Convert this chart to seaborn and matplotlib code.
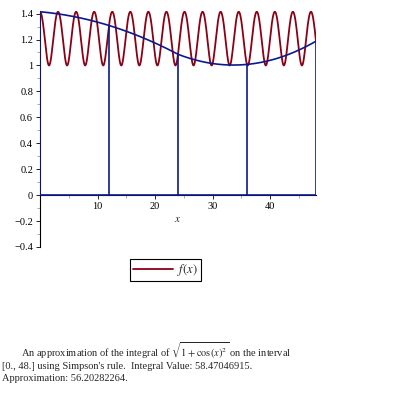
import numpy as np
import pandas as pd
import seaborn as sns
import matplotlib.pyplot as plt
from matplotlib.ticker import MultipleLocator, FixedLocator, FuncFormatter
from matplotlib.lines import Line2D

# interval and Simpson nodes
x_start, x_end = 0.0, 48.0
nodes = [0, 12, 24, 36, 48]
xticks = [10, 20, 30, 40]
yticks = [-0.4, -0.2, 0, 0.2, 0.4, 0.6, 0.8, 1, 1.2, 1.4]

caption = [
    r"An approximation of the integral of $\sqrt{1+\cos(x)^2}$ on the interval",
    "[0., 48.] using Simpson's rule.  Integral Value: 58.47046915.",
    "Approximation: 56.20282264.",
]

red = '#8c0014'
blue = '#0a1a8c'


def f(x):
    return np.sqrt(1 + np.cos(x) ** 2)


sns.set_style("white")
plt.rcParams['font.family'] = ['Liberation Serif', 'DejaVu Serif']
plt.rcParams['mathtext.fontset'] = 'stix'

fig = plt.figure(figsize=(3.95, 3.95), dpi=100)
ax = fig.add_axes([40 / 395, (395 - 247) / 395, 276 / 395, 236 / 395])

# the function
xs = np.linspace(x_start, x_end, 2000)
curve = pd.DataFrame({'x': xs, 'y': f(xs)})
sns.lineplot(data=curve, x='x', y='y', color=red, lw=1.3, ax=ax, zorder=3)

# Simpson parabolas over pairs of subintervals
node_y = f(np.array(nodes, dtype=float))
for i in range(0, len(nodes) - 2, 2):
    px = np.array(nodes[i:i + 3], dtype=float)
    coef = np.polyfit(px, node_y[i:i + 3], 2)
    seg_x = np.linspace(px[0], px[-1], 200)
    seg = pd.DataFrame({'x': seg_x, 'y': np.polyval(coef, seg_x)})
    sns.lineplot(data=seg, x='x', y='y', color=blue, lw=1.2, ax=ax, zorder=4)

ax.vlines(nodes, 0, node_y, color=blue, lw=1.2, zorder=4)
ax.hlines(0, x_start, x_end, color=blue, lw=1.2, zorder=4)

ax.set_xlim(x_start, x_end)
ax.set_ylim(-0.4, 1.42)

for s in ['top', 'right']:
    ax.spines[s].set_visible(False)
ax.spines['left'].set_position(('data', 0))
ax.spines['bottom'].set_position(('data', 0))
for s in ['left', 'bottom']:
    ax.spines[s].set_color('black')
    ax.spines[s].set_linewidth(0.8)

ax.xaxis.set_major_locator(FixedLocator(xticks))
ax.xaxis.set_minor_locator(MultipleLocator(5))
ax.yaxis.set_major_locator(FixedLocator(yticks))
ax.yaxis.set_minor_locator(MultipleLocator(0.1))
fmt = FuncFormatter(lambda v, p: f"{v:g}".replace('-', '\u2212'))
ax.yaxis.set_major_formatter(fmt)
ax.tick_params(axis='both', which='major', direction='out', length=3, width=0.6,
               labelsize=7.5, colors='black', pad=2)
ax.tick_params(axis='both', which='minor', direction='out', length=2, width=0.5,
               colors='#888888')
ax.tick_params(axis='x', which='both', bottom=True)
ax.tick_params(axis='y', which='both', left=True)

ax.set_xlabel('')
ax.set_ylabel('')
fig.text(178 / 395, 1 - 220 / 395, '$x$', fontsize=8, ha='center', va='center')

handle = Line2D([], [], color=red, lw=1.3)
leg = fig.legend([handle], ['$f(x)$'], loc='upper left',
                 bbox_to_anchor=(130 / 395, 1 - 259 / 395),
                 frameon=True, fancybox=False, framealpha=1, edgecolor='black',
                 fontsize=9, handlelength=3.2, borderpad=0.25, handletextpad=0.3,
                 borderaxespad=0)
leg.get_frame().set_linewidth(0.8)

# caption lines placed by baseline
fig.text(21 / 395, 1 - 357 / 395, caption[0], fontsize=7.5, va='baseline', ha='left')
fig.text(2 / 395, 1 - 369 / 395, caption[1], fontsize=7.5, va='baseline', ha='left')
fig.text(2 / 395, 1 - 381 / 395, caption[2], fontsize=7.5, va='baseline', ha='left')

fig.savefig('out.png', dpi=100)
